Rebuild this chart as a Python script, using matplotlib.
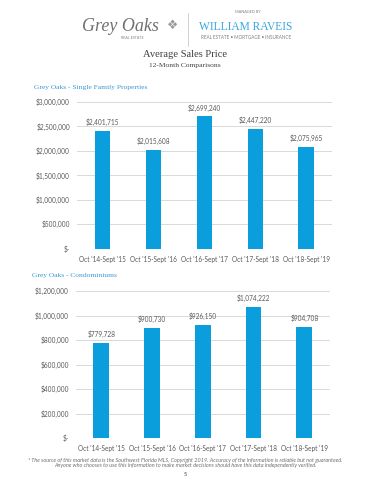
import matplotlib
matplotlib.use("Agg")
import matplotlib.pyplot as plt
from matplotlib.ticker import FuncFormatter, MultipleLocator

# data
periods = ["Oct '14-Sept '15", "Oct '15-Sept '16", "Oct '16-Sept '17",
           "Oct '17-Sept '18", "Oct '18-Sept '19"]
single_family = [2401715, 2015608, 2699240, 2447220, 2075965]
condos = [779728, 900730, 926150, 1074222, 904708]

BAR = '#0A9FDC'
GRID = '#D9D9D9'
TXT = '#595959'
HEAD = '#3A97D6'
SANS = ['Lato', 'DejaVu Sans']
SERIF = ['Liberation Serif', 'DejaVu Serif']
FS = 4.7


def money(v, pos=None):
    if v == 0:
        return '$-'
    return f'${v:,.0f}'


def bar_panel(ax, values, ymax, step):
    xs = range(len(values))
    bars = ax.bar(xs, values, width=0.31, color=BAR, zorder=3)
    for b, v in zip(bars, values):
        ax.annotate(money(v), (b.get_x() + b.get_width() / 2, v),
                    xytext=(0, 3.5), textcoords='offset points',
                    ha='center', va='bottom', fontsize=FS, color=TXT, family=SANS)
    ax.set_xlim(-0.5, len(values) - 0.5)
    ax.set_ylim(0, ymax)
    ax.yaxis.set_major_locator(MultipleLocator(step))
    ax.yaxis.set_major_formatter(FuncFormatter(money))
    ax.set_xticks(list(xs))
    ax.set_xticklabels(periods)
    ax.grid(axis='y', color=GRID, linewidth=0.7, zorder=0)
    for s in ax.spines.values():
        s.set_visible(False)
    ax.tick_params(length=0, labelsize=FS, labelcolor=TXT, pad=5)
    for lab in ax.get_xticklabels() + ax.get_yticklabels():
        lab.set_family(SANS)


fig = plt.figure(figsize=(3.7, 4.8), dpi=100)

# header / logo
fig.text(0.325, 0.945, 'Grey Oaks', fontsize=13, style='italic',
         family=SERIF, color='#707070', ha='center', va='center')
fig.text(0.358, 0.921, 'REAL ESTATE', fontsize=2.6, family=SANS,
         color='#808080', ha='center', va='center')
fig.text(0.466, 0.947, '\u2756', fontsize=9, color='#9a9a9a',
         ha='center', va='center', family=['DejaVu Sans'])
fig.add_artist(plt.Line2D([0.508, 0.508], [0.905, 0.972], color='#C8C8C8', linewidth=0.6))
fig.text(0.670, 0.975, 'MANAGED BY', fontsize=2.8, family=SANS,
         color='#808080', ha='center', va='center')
fig.text(0.665, 0.944, 'WILLIAM RAVEIS', fontsize=8.3, family=SERIF,
         color='#3AA6DF', ha='center', va='center')
fig.text(0.665, 0.922, 'REAL ESTATE \u2022 MORTGAGE \u2022 INSURANCE', fontsize=3.35,
         family=SANS, color='#808080', ha='center', va='center')

fig.text(0.5, 0.886, 'Average Sales Price', fontsize=7.6, family=SERIF,
         color='#404040', ha='center', va='center')
fig.text(0.5, 0.864, '12-Month Comparisons', fontsize=5.4, family=SERIF,
         color='#404040', ha='center', va='center')

fig.text(0.093, 0.818, 'Grey Oaks - Single Family Properties', fontsize=5.4,
         family=SERIF, color=HEAD, ha='left', va='center')
fig.text(0.086, 0.425, 'Grey Oaks - Condominiums', fontsize=5.4,
         family=SERIF, color=HEAD, ha='left', va='center')

ax1 = fig.add_axes([0.208, 0.482, 0.689, 0.306])
bar_panel(ax1, single_family, 3000000, 500000)

ax2 = fig.add_axes([0.205, 0.0875, 0.686, 0.306])
bar_panel(ax2, condos, 1200000, 200000)

# footnote
fig.text(0.5, 0.041, '* The source of this market data is the Southwest Florida MLS, Copyright 2019. '
         'Accuracy of the information is reliable but not guaranteed.',
         fontsize=4.0, style='italic', family=SANS, color='#707070', ha='center', va='center')
fig.text(0.5, 0.030, 'Anyone who chooses to use this information to make market decisions '
         'should have this data independently verified.',
         fontsize=4.0, style='italic', family=SANS, color='#707070', ha='center', va='center')
fig.text(0.5, 0.012, '5', fontsize=3.8, family=SANS, color='#404040',
         ha='center', va='center')

fig.savefig('out.png', dpi=100)
